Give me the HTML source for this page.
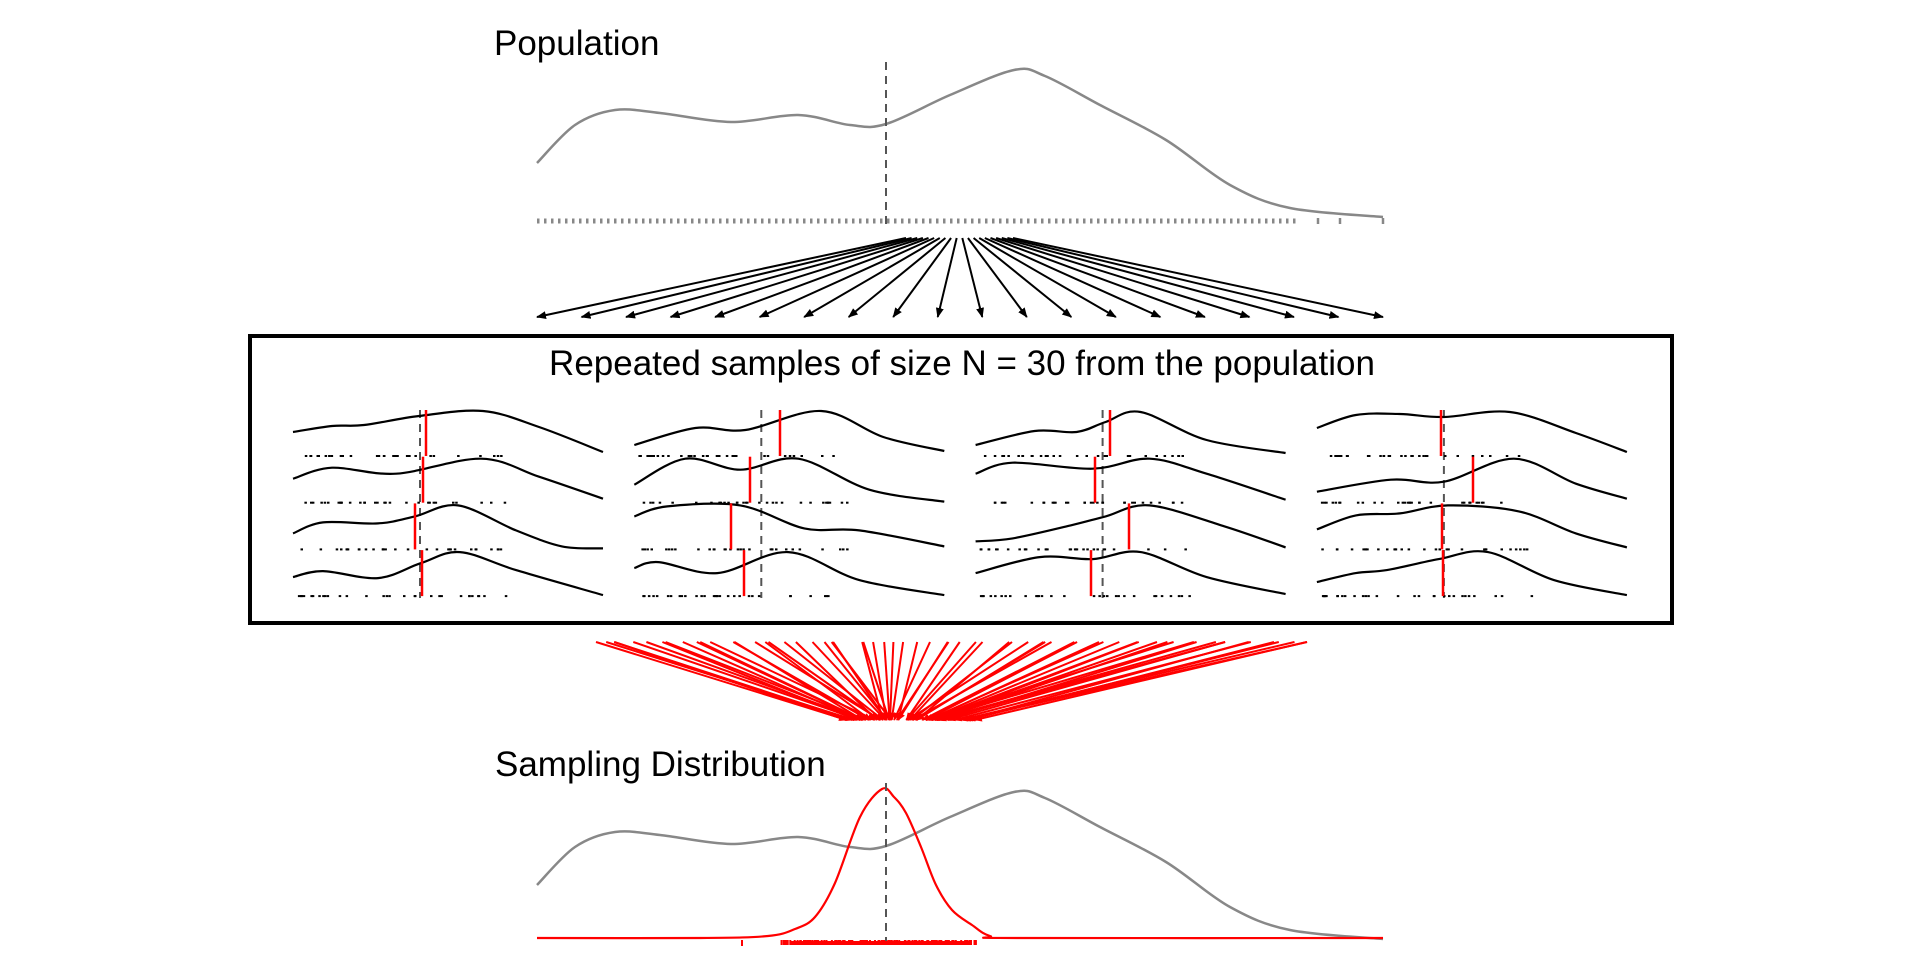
<!DOCTYPE html>
<html><head><meta charset="utf-8"><style>
html,body{margin:0;padding:0;background:#fff;}
svg{display:block;}
text{font-family:"Liberation Sans",sans-serif;fill:#000;}
</style></head><body>
<svg id="s" width="1920" height="960" viewBox="0 0 1920 960" xmlns="http://www.w3.org/2000/svg">
<defs>
<marker id="ah" viewBox="0 0 10 10" refX="9" refY="5" markerWidth="5" markerHeight="5" orient="auto"><path d="M0,1 L10,5 L0,9 z" fill="#000"/></marker>
<marker id="ahr" viewBox="0 0 10 10" refX="9" refY="5" markerWidth="4" markerHeight="4" orient="auto"><path d="M0,1 L10,5 L0,9 z" fill="#f00"/></marker>
</defs>
<text x="494" y="55" font-size="35">Population</text>
<text x="962" y="375" font-size="35" text-anchor="middle">Repeated samples of size N = 30 from the population</text>
<text x="495" y="776" font-size="35">Sampling Distribution</text>
<rect x="250" y="336" width="1422" height="287" fill="none" stroke="#000" stroke-width="4"/>
<g id="g"></g>
</svg>
<script>
var g=document.getElementById('g'),NS='http://www.w3.org/2000/svg';
function el(t,a){var e=document.createElementNS(NS,t);for(var k in a)e.setAttribute(k,a[k]);g.appendChild(e);return e;}
function smooth(p){var d='M'+p[0][0]+','+p[0][1];for(var i=0;i<p.length-1;i++){var p0=p[i-1]||p[i],p1=p[i],p2=p[i+1],p3=p[i+2]||p2;
var c1x=p1[0]+(p2[0]-p0[0])/6,c1y=p1[1]+(p2[1]-p0[1])/6,c2x=p2[0]-(p3[0]-p1[0])/6,c2y=p2[1]-(p3[1]-p1[1])/6;
d+=' C'+c1x.toFixed(1)+','+c1y.toFixed(1)+' '+c2x.toFixed(1)+','+c2y.toFixed(1)+' '+p2[0]+','+p2[1];}return d;}
var seed=7;function rnd(){seed=(seed*9301+49297)%233280;return seed/233280;}
var pop=[[537,163],[575,125],[615,110],[660,113],[731,122],[798,115],[850,125],[886,124],[950,95],[1014,70],[1045,76],[1100,105],[1166,140],[1230,185],[1290,208],[1383,217]];
el('path',{d:smooth(pop),fill:'none',stroke:'#888',"stroke-width":2.5});
el('line',{x1:886,y1:62,x2:886,y2:224,stroke:'#555',"stroke-width":2,"stroke-dasharray":"8,6"});
el('line',{x1:537,y1:221,x2:1300,y2:221,stroke:'#888',"stroke-width":5,"stroke-dasharray":"2.5,4.5"});
[1318,1340,1383].forEach(function(x){el('line',{x1:x,y1:218,x2:x,y2:224,stroke:'#888',"stroke-width":2.5});});
for(var i=0;i<20;i++){var sx=906+i*(107/19),ex=537+i*(846/19);el('line',{x1:sx,y1:238,x2:ex,y2:317,stroke:'#000',"stroke-width":2,"marker-end":"url(#ah)"});}
var curves=[
[[[0,22],[39,16],[71,15],[126,6],[190,1],[246,17],[310,42]],[[0,22],[39,11],[103,17],[188,2],[246,20],[310,42]],[[0,30],[30,19],[85,20],[122,13],[165,2],[223,27],[269,43],[310,45]],[[0,27],[30,21],[85,28],[128,13],[167,2],[223,20],[310,45]]],
[[[0,35],[61,18],[111,20],[187,1],[249,27],[310,41]],[[0,28],[51,2],[106,13],[164,2],[235,33],[310,45]],[[0,13],[33,3],[106,2],[170,25],[225,27],[310,43]],[[0,18],[24,12],[83,23],[154,2],[225,30],[310,45]]],
[[[0,35],[59,21],[101,22],[130,12],[165,2],[231,30],[310,43]],[[0,17],[37,6],[117,12],[174,2],[231,17],[310,43]],[[0,38],[37,35],[95,22],[130,13],[174,2],[249,23],[310,44]],[[0,23],[64,7],[117,9],[165,2],[231,27],[310,44]]],
[[[0,18],[39,5],[83,4],[127,7],[193,2],[259,23],[310,42]],[[0,35],[74,23],[127,25],[197,2],[259,27],[310,42]],[[0,26],[39,12],[83,10],[131,2],[202,8],[259,30],[310,44]],[[0,32],[39,23],[70,20],[122,9],[171,2],[237,30],[310,45]]]];
var reds=[[426,423,415,422],[780,750,731,744],[1110,1095,1129,1091],[1441,1473,1442,1443]];
for(var c=0;c<4;c++){var cx=293+c*341.3;
el('line',{x1:cx+127,y1:410,x2:cx+127,y2:598,stroke:'#555',"stroke-width":2,"stroke-dasharray":"8,6"});
for(var r=0;r<4;r++){var y0=410+r*46.7;
el('path',{d:smooth(curves[c][r].map(function(p){return [+(cx+p[0]).toFixed(1),+(y0+p[1]).toFixed(1)];})),fill:'none',stroke:'#000',"stroke-width":2.2});
for(var k=0;k<30;k++){var x=cx+4+Math.pow(rnd(),1.1)*210;el('rect',{x:x.toFixed(1),y:y0+45,width:2.5,height:2,fill:'#000'});}
el('line',{x1:reds[c][r],y1:y0,x2:reds[c][r],y2:y0+46,stroke:'#f00',"stroke-width":2.5});}}
for(var i=0;i<64;i++){var t=i/63;var tx=587+t*727+(rnd()-0.5)*20;var bx=850+t*105+(rnd()-0.5)*15;if(i>56)bx+=15;
el('line',{x1:tx.toFixed(1),y1:642,x2:bx.toFixed(1),y2:720,stroke:'#f00',"stroke-width":2,"marker-end":"url(#ahr)"});}
el('path',{d:smooth(pop.map(function(p){return [p[0],p[1]+722];})),fill:'none',stroke:'#888',"stroke-width":2.5});
var rc=[[537,938],[700,938],[768,936],[795,929],[815,917],[835,883],[860,817],[882,789],[894,797],[906,813],[921,847],[936,885],[952,910],[972,925],[990,936],[1020,938],[1383,938]];
el('path',{d:smooth(rc),fill:'none',stroke:'#f00',"stroke-width":2.2});
el('line',{x1:886,y1:783,x2:886,y2:946,stroke:'#555',"stroke-width":2,"stroke-dasharray":"8,6"});
el('rect',{x:741,y:940,width:2,height:6,fill:'#f00'});
for(var k=0;k<120;k++){var x=780+rnd()*200;el('rect',{x:x.toFixed(1),y:940,width:2,height:5,fill:'#f00'});}
el('rect',{x:790,y:941,width:180,height:4,fill:'#f00'});
</script>
</body></html>
